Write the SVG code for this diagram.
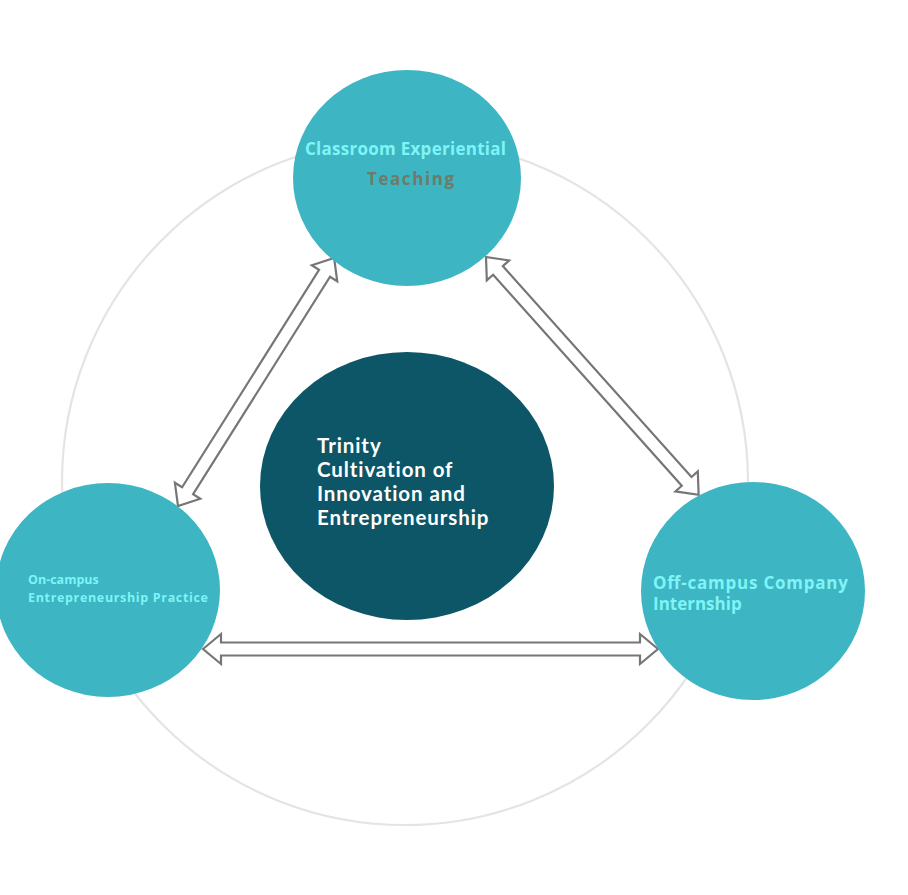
<svg xmlns="http://www.w3.org/2000/svg" width="908" height="895" viewBox="0 0 908 895">
<defs>
<style>
.ring{fill:none;stroke:#e4e4e4;stroke-width:2.2}
.node{fill:#3db5c3}
.core{fill:#0c5667}
.arrow{fill:#fff;stroke:#767676;stroke-width:2.2;stroke-linejoin:miter}
.lbl{font-family:"Open Sans","Noto Sans","DejaVu Sans",sans-serif;font-weight:700}
.clbl{font-family:Lato,"Liberation Sans",sans-serif;font-weight:700;fill:#fff;font-size:20.5px;letter-spacing:0.9px}
.cyan{fill:#7ff4f6}
</style>
</defs>
<rect width="908" height="895" fill="#fff"/>
<circle class="ring" cx="405" cy="482" r="343"/>
<g id="connectors">
<polygon class="arrow" transform="translate(178,506) rotate(-57.8)" points="0,0 18,-15 18,-6.5 275,-6.5 275,-15 293,0 275,15 275,6.5 18,6.5 18,15"/>
<polygon class="arrow" transform="translate(486,257) rotate(48.2)" points="0,0 18,-15 18,-6.5 301,-6.5 301,-15 319,0 301,15 301,6.5 18,6.5 18,15"/>
<polygon class="arrow" transform="translate(203,649)" points="0,0 18,-15 18,-6.5 437,-6.5 437,-15 455,0 437,15 437,6.5 18,6.5 18,15"/>
</g>
<g id="center">
<ellipse class="core" cx="407" cy="486" rx="147" ry="134"/>
<text class="clbl" x="317" y="453">Trinity</text>
<text class="clbl" x="317" y="477">Cultivation of</text>
<text class="clbl" x="317" y="501">Innovation and</text>
<text class="clbl" x="317" y="525">Entrepreneurship</text>
</g>
<g id="top">
<ellipse class="node" cx="407" cy="178" rx="114" ry="108"/>
<text class="lbl cyan" font-size="17" x="305" y="155" textLength="201">Classroom Experiential</text>
<text class="lbl" fill="#707a68" font-size="17" x="367" y="185" textLength="87">Teaching</text>
</g>
<g id="left">
<ellipse class="node" cx="108" cy="590" rx="112" ry="107"/>
<text class="lbl cyan" font-size="12.5" x="28" y="584">On-campus</text>
<text class="lbl cyan" font-size="12.5" x="28" y="602" textLength="180">Entrepreneurship Practice</text>
</g>
<g id="right">
<ellipse class="node" cx="753" cy="591" rx="112" ry="109"/>
<text class="lbl cyan" font-size="17" x="653" y="589" textLength="195">Off-campus Company</text>
<text class="lbl cyan" font-size="17" x="653" y="610">Internship</text>
</g>
</svg>
